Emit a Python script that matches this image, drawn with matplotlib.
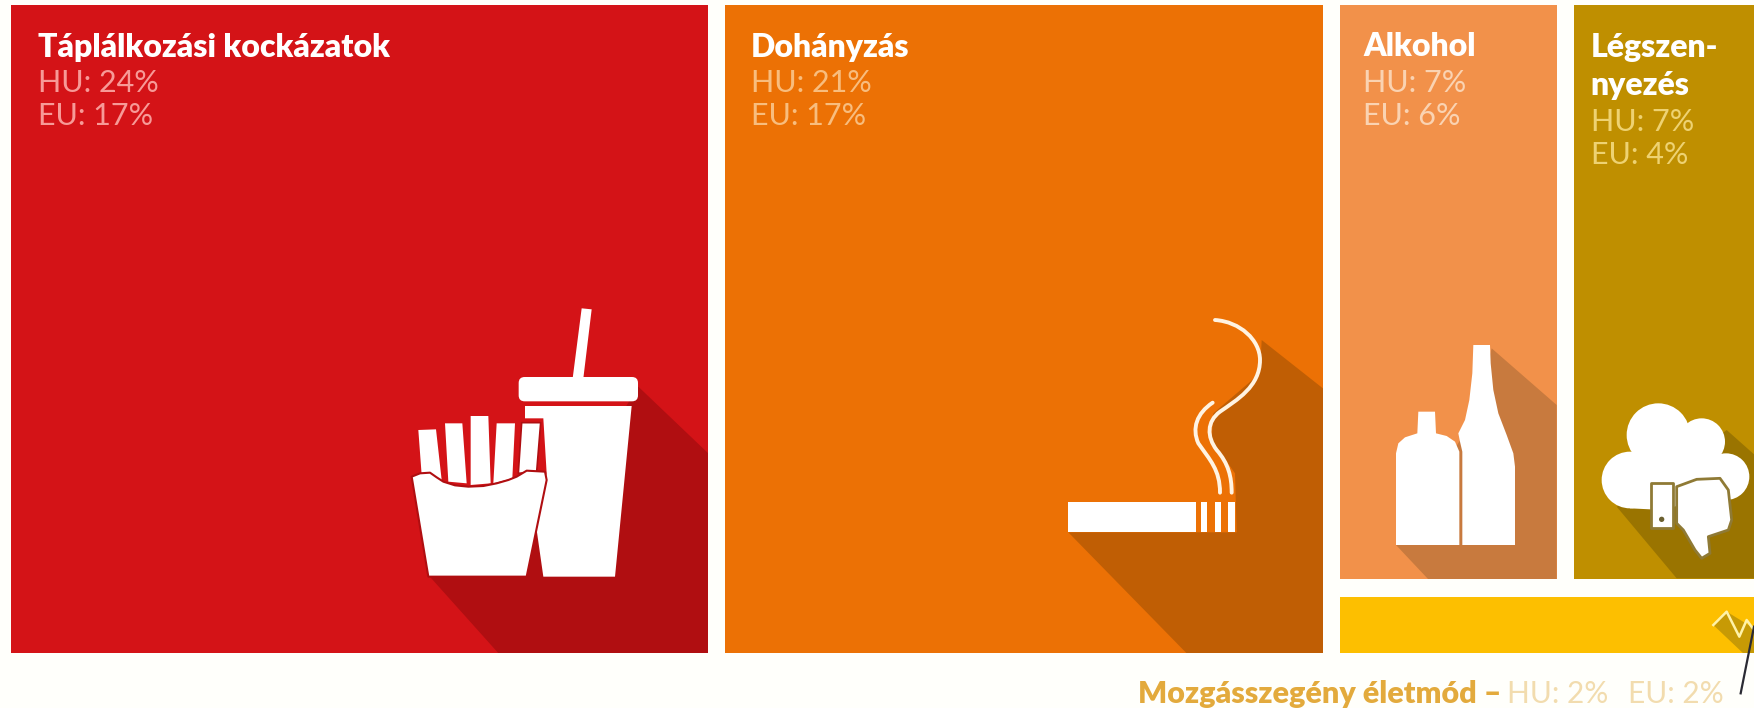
#treemap of risk factors, drawn in pixel coordinates so it lines up with the reference

import matplotlib
matplotlib.use("Agg")
import matplotlib.pyplot as plt
from matplotlib.patches import Polygon, Circle, Rectangle, PathPatch, FancyBboxPatch
from matplotlib.path import Path

names = ["Táplálkozási kockázatok", "Dohányzás", "Alkohol", "Légszen-\nnyezés", "Mozgásszegény életmód"]
hu = [24, 21, 7, 7, 2]
eu = [17, 17, 6, 4, 2]
#unrounded tile sizes, estimated from the tile areas in the picture
sizes = [24.0, 20.6, 6.6, 6.6, 1.7]

colors = ["#d41317", "#ec7105", "#f2914a", "#bf8f00", "#fdbf00"]
shadows = ["#b00e11", "#c05e04", "#c87a3e", "#9a7400", "#c79a05"]
light = ["#f79a97", "#f8bd7e", "#fad3b2", "#eed272"]

plt.rcParams["font.family"] = ["Lato", "DejaVu Sans"]

fig = plt.figure(figsize=(17.54, 7.08), dpi=100, facecolor="#fffffb")
ax = fig.add_axes([0, 0, 1, 1])
ax.set_xlim(0, 1754)
ax.set_ylim(708, 0)
ax.axis("off")

#layout of the tiles comes from the sizes
left = 11
top = 5
height = 648
gap = 17
vgap = 18
px_per_unit = 29.04

tiles = []
x = left
for s in sizes[:2]:
    tiles.append((x, top, s * px_per_unit, height))
    x = x + s * px_per_unit + gap
right_sum = sum(sizes[2:])
bar_h = height * sizes[4] / right_sum - vgap
top_h = height - bar_h - vgap
x2 = x
for s in sizes[2:4]:
    w = s * px_per_unit * height / top_h
    tiles.append((x2, top, w, top_h))
    x2 = x2 + w + gap
tiles.append((x, top + top_h + vgap, 1754 - x + 5, bar_h))

rects = []
for t, c in zip(tiles, colors):
    r = Rectangle((t[0], t[1]), t[2], t[3], facecolor=c, edgecolor="none", zorder=1)
    ax.add_patch(r)
    rects.append(r)


def z(points, ox, oy):
    return [(ox + p[0] / 3, oy + p[1] / 3) for p in points]


def shape(points, ox, oy, color="white", edge="none", lw=0, zorder=3):
    p = Polygon(z(points, ox, oy), closed=True, facecolor=color, edgecolor=edge, linewidth=lw, zorder=zorder, joinstyle="round")
    ax.add_patch(p)
    return p


def shadow(points, ox, oy, i):
    p = shape(points, ox, oy, color=shadows[i], zorder=2)
    p.set_clip_path(rects[i])


def curve(points, ox, oy, color, lw):
    pts = z(points, ox, oy)
    codes = [Path.MOVETO] + [Path.CURVE4] * (len(pts) - 1)
    ax.add_patch(PathPatch(Path(pts, codes), facecolor="none", edgecolor=color, linewidth=lw, capstyle="round", zorder=3))


#food
ox, oy = 380, 280
shadow([(145, 885), (360, 1125), (990, 1125), (990, 525), (775, 320), (600, 600)], ox, oy, 0)
shape([(605, 85), (635, 88), (610, 295), (578, 295)], ox, oy)
ax.add_patch(FancyBboxPatch((380 + 425 / 3, 280 + 300 / 3), 340 / 3, 55 / 3, boxstyle="round,pad=3,rounding_size=6", facecolor="white", edgecolor="none", zorder=3))
shape([(435, 378), (755, 378), (705, 890), (490, 890), (470, 750), (500, 580), (490, 415), (435, 415)], ox, oy)
shape([(115, 450), (168, 448), (185, 600), (125, 585)], ox, oy)
shape([(195, 430), (247, 430), (260, 610), (205, 605)], ox, oy)
shape([(272, 408), (325, 408), (332, 610), (272, 615)], ox, oy)
shape([(350, 430), (405, 430), (397, 595), (340, 610)], ox, oy)
shape([(425, 428), (482, 428), (470, 575), (415, 580)], ox, oy, edge=shadows[0], lw=1.2)
shape([(95, 590), (120, 580), (150, 578), (170, 592), (190, 605), (225, 616), (265, 620), (310, 618), (350, 610), (385, 600), (410, 590), (440, 572), (495, 575), (500, 600), (440, 890), (145, 890)],
      ox, oy, edge=shadows[0], lw=1.5, zorder=4)

#cigarette
ox, oy = 1040, 300
shadow([(85, 697), (440, 1060), (855, 1060), (855, 270), (665, 120), (660, 220), (520, 340), (515, 420), (585, 520), (590, 697)], ox, oy, 1)
shape([(85, 605), (468, 605), (468, 697), (85, 697)], ox, oy)
for sx in [482, 525, 565]:
    shape([(sx, 605), (sx + 19, 605), (sx + 19, 695), (sx, 695)], ox, oy)
curve([(525, 60), (600, 65), (660, 120), (660, 180), (660, 260), (590, 300), (540, 335), (500, 365), (500, 410), (530, 450), (565, 490), (575, 530), (575, 578)],
      ox, oy, "#fff3e2", 2.8)
curve([(518, 308), (470, 340), (455, 385), (475, 430), (510, 480), (540, 510), (540, 578)], ox, oy, "#fff3e2", 2.8)

#bottles
ox, oy = 1330, 320
shadow([(198, 675), (295, 778), (680, 778), (680, 255), (485, 85), (430, 300), (300, 500)], ox, oy, 2)
shape([(265, 275), (315, 275), (318, 340), (350, 348), (375, 365), (388, 395), (388, 675), (198, 675), (198, 400), (205, 370), (225, 352), (262, 340)], ox, oy)
shape([(430, 75), (480, 75), (482, 130), (490, 210), (505, 280), (530, 345), (550, 400), (555, 440), (555, 675), (397, 675), (397, 395), (390, 365), (385, 340), (405, 300), (418, 240), (427, 160)], ox, oy)

#cloud with thumb
shadow([(860, 560), (1040, 775), (1280, 775), (1280, 410), (1190, 330), (1000, 480)], ox, oy, 3)
for cx, cy, r in [(985, 345, 95), (1115, 365, 70), (900, 480, 85), (1188, 470, 70)]:
    ax.add_patch(Circle((ox + cx / 3, oy + cy / 3), r / 3, facecolor="white", edgecolor="none", zorder=3))
shape([(880, 450), (1000, 300), (1150, 350), (1210, 520), (1100, 540), (1000, 570), (900, 565)], ox, oy)
thumb_edge = "#8f7a35"
shape([(1040, 500), (1100, 478), (1170, 475), (1195, 510), (1205, 600), (1195, 630), (1135, 650), (1140, 700), (1115, 715), (1095, 690), (1060, 630), (1040, 610)],
      ox, oy, edge=thumb_edge, lw=2, zorder=4)
shape([(962, 490), (1030, 490), (1030, 625), (962, 625)], ox, oy, edge=thumb_edge, lw=2, zorder=4)
ax.add_patch(Circle((ox + 995 / 3, oy + 598 / 3), 8 / 3, facecolor="#6b6030", edgecolor="none", zorder=5))

#heartbeat line on the yellow bar and the leader
shadow([(1150, 915), (1245, 1005), (1280, 1005), (1280, 930), (1190, 875)], ox, oy, 4)
zig = z([(1150, 915), (1190, 875), (1228, 950), (1250, 900), (1272, 930)], ox, oy)
ax.plot([p[0] for p in zig], [p[1] for p in zig], color="#fff2a8", lw=1.8, zorder=3)
lead = z([(1272, 920), (1232, 1120)], ox, oy)
ax.plot([p[0] for p in lead], [p[1] for p in lead], color="#2a2a33", lw=1.6, zorder=4)

#tile texts
title_size = 23
value_size = 22
pads = [27, 26, 23, 17]
line_h = 33
for i in range(4):
    tx = tiles[i][0] + pads[i]
    ty = 47
    for part in names[i].split("\n"):
        ax.text(tx, ty, part, color="white", fontsize=title_size, fontweight="heavy", va="center", ha="left", zorder=6)
        ty = ty + 39
    ty = ty - 3
    ax.text(tx, ty, "HU: %d%%" % hu[i], color=light[i], fontsize=value_size, va="center", ha="left", zorder=6)
    ax.text(tx, ty + line_h, "EU: %d%%" % eu[i], color=light[i], fontsize=value_size, va="center", ha="left", zorder=6)

#label under the yellow bar
ax.text(1138, 694, names[4] + " –", color="#e3aa3c", fontsize=22, fontweight="heavy", va="center", ha="left", zorder=6)
ax.text(1507, 694, "HU: %d%%" % hu[4], color="#f2dcae", fontsize=21.5, va="center", ha="left", zorder=6)
ax.text(1628, 694, "EU: %d%%" % eu[4], color="#f2dcae", fontsize=21.5, va="center", ha="left", zorder=6)

fig.savefig("out.png", dpi=100, facecolor=fig.get_facecolor())
